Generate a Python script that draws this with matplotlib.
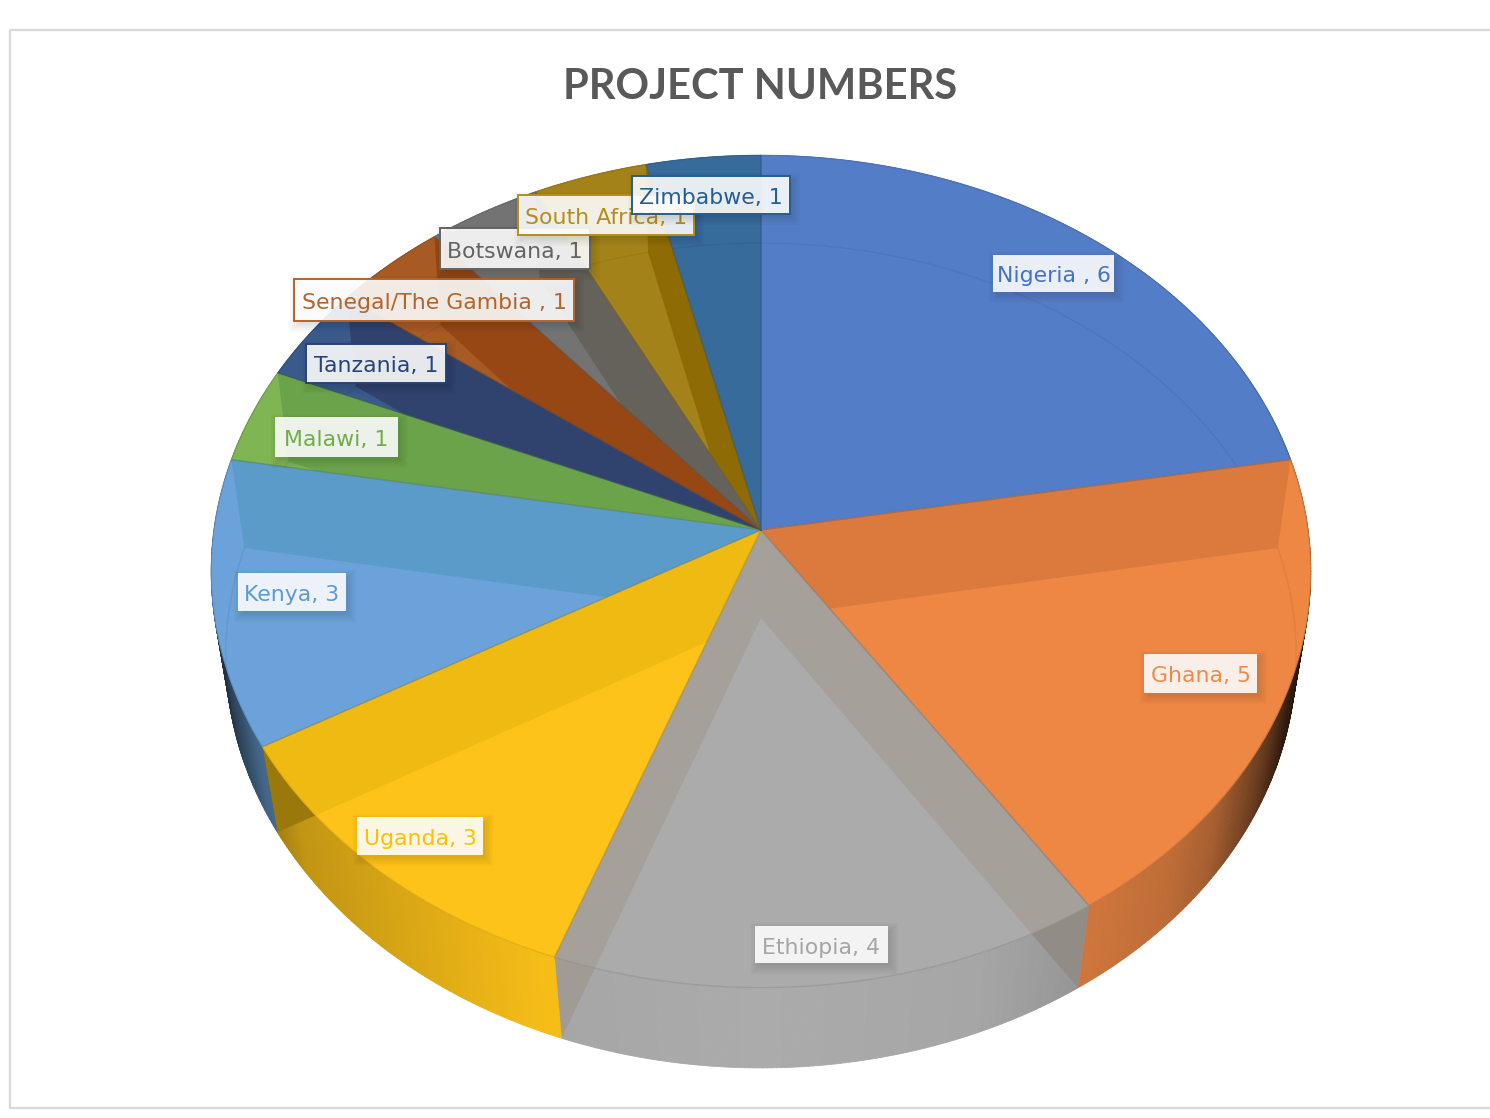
import numpy as np
import matplotlib
matplotlib.use("Agg")
import matplotlib.pyplot as plt
from matplotlib.collections import PolyCollection
from matplotlib.colors import to_rgb
from matplotlib.patches import Polygon, Rectangle

# dane z wykresu
names = ["Nigeria ", "Ghana", "Ethiopia", "Uganda", "Kenya", "Malawi", "Tanzania",
         "Senegal/The Gambia ", "Botswana", "South Africa", "Zimbabwe"]
values = [6, 5, 4, 3, 3, 1, 1, 1, 1, 1, 1]

top_colors = ["#547DC7", "#EE8744", "#ABABAB", "#FEC318", "#6BA2D9", "#7FB552",
              "#3A5A8C", "#A85A24", "#737373", "#A38319", "#376B9C"]
band_colors = ["#547DC7", "#DB7A3C", "#A6A09A", "#EFBA12", "#5B9BC9", "#6BA34A",
               "#30426E", "#964714", "#64625A", "#8E6B05", "#376B9C"]
text_colors = ["#4472C4", "#F08A4B", "#A5A5A5", "#FFC000", "#5B9BD5", "#70AD47",
               "#264478", "#B5632A", "#636363", "#B38F1A", "#255E91"]
# ramki etykiet: lewo, gora, prawo, dol
label_boxes = [(993, 255, 1114, 292), (1144, 654, 1257, 693), (755, 926, 888, 963),
               (357, 817, 483, 855), (238, 573, 346, 611), (275, 417, 398, 457),
               (306, 344, 446, 383), (294, 279, 574, 321), (440, 228, 590, 269),
               (518, 195, 694, 235), (632, 176, 790, 214)]
framed = [False, False, False, False, False, False, True, True, True, True, True]

cx = 761
top_face = dict(R=547, H=412, k=0.0996, cy=530)
bottom_face = dict(R=533, H=409, k=0.0909, cy=618)


def project(theta, R, H, k, cy):
    # rzut perspektywiczny punktu z kola, theta liczona od gory zgodnie z zegarem
    w = 1 + k * np.cos(theta)
    return np.column_stack([cx + R * np.sin(theta) / w, cy - H * np.cos(theta) / w])


def shade(theta):
    # prawa strona ciemnieje wczesniej niz lewa
    x = project(np.atleast_1d(theta), **top_face)[:, 0]
    t = np.abs(x - cx) / 550
    right = np.interp(t, [0, 0.4, 0.6, 0.75, 0.83, 0.92, 0.97, 1],
                      [1, 0.97, 0.87, 0.8, 0.7, 0.42, 0.2, 0.15])
    left = np.interp(t, [0, 0.4, 0.6, 0.85, 0.92, 1], [1, 0.97, 0.88, 0.76, 0.62, 0.3])
    return np.where(x > cx, right, left)


def scaled(color, factor):
    return tuple(np.clip(np.array(to_rgb(color)) * factor, 0, 1))


fig = plt.figure(figsize=(14.9, 11.18), dpi=100)
ax = fig.add_axes([0, 0, 1, 1])
ax.set_xlim(0, 1490)
ax.set_ylim(1118, 0)
ax.axis("off")

# ramka wykresu
ax.plot([1490, 10, 10, 1490], [30, 30, 1108, 1108], color="#D9D9D9", lw=1.6, zorder=1)

edges = np.cumsum([0] + values) / sum(values) * 2 * np.pi
apex_top = np.array([[cx, top_face["cy"]]])
apex_bottom = np.array([[cx, bottom_face["cy"]]])

# sciany boczne
for i in range(len(values)):
    th = np.linspace(edges[i], edges[i + 1], max(values[i] * 30, 2))
    t = project(th, **top_face)
    b = project(th, **bottom_face)
    s = shade(th)
    quads = [[t[j], t[j + 1], b[j + 1], b[j]] for j in range(len(th) - 1)]
    cols = [scaled(top_colors[i], (s[j] + s[j + 1]) / 2) for j in range(len(th) - 1)]
    ax.add_collection(PolyCollection(quads, facecolors=cols, edgecolors=cols, linewidths=0.6, zorder=2))

# gorne powierzchnie i przeswitujace sciany promieniowe
for i in range(len(values)):
    th = np.linspace(edges[i], edges[i + 1], max(values[i] * 30, 2))
    t = project(th, **top_face)
    b = project(th, **bottom_face)
    wedge = Polygon(np.vstack([apex_top, t]), closed=True, facecolor=top_colors[i],
                    edgecolor=top_colors[i], lw=0.5, zorder=3)
    ax.add_patch(wedge)
    wall_outline = Polygon(np.vstack([t, b[::-1]]), closed=True, transform=ax.transData)

    for edge in (edges[i], edges[i + 1]):
        e_t = project(np.array([edge]), **top_face)
        e_b = project(np.array([edge]), **bottom_face)
        quad = np.vstack([apex_top, e_t, e_b, apex_bottom])
        band = Polygon(quad, closed=True, facecolor=band_colors[i], edgecolor="none", zorder=4)
        ax.add_patch(band)
        band.set_clip_path(wedge)
        if np.cos(edge) < -0.3:
            on_wall = Polygon(quad, closed=True, facecolor=scaled(band_colors[i], shade(edge)[0]),
                              edgecolor="none", zorder=2.5)
            ax.add_patch(on_wall)
            on_wall.set_clip_path(wall_outline)

    # slaby luk dolnej podstawy
    arc, = ax.plot(b[:, 0], b[:, 1], color="black", alpha=0.06, lw=1, zorder=5)
    arc.set_clip_path(wedge)

    # krawedzie wycinka
    outline = np.vstack([apex_top, t, apex_top])
    ax.plot(outline[:, 0], outline[:, 1], color=scaled(top_colors[i], 0.75), alpha=0.35,
            lw=1, zorder=6, solid_joinstyle="round")

# etykiety
for i, box in enumerate(label_boxes):
    left, up, right, down = box
    base = 10 + i * 0.1
    for grow in (7, 5, 3, 1, -1):
        ax.add_patch(Rectangle((left + 3 - grow, up + 4 - grow), right - left + 2 * grow,
                               down - up + 2 * grow, facecolor="black", alpha=0.025,
                               edgecolor="none", zorder=base))
    ax.add_patch(Rectangle((left, up), right - left, down - up, facecolor="white", alpha=0.89,
                           edgecolor="none", zorder=base + 0.01))
    if framed[i]:
        ax.add_patch(Rectangle((left, up), right - left, down - up, fill=False,
                               edgecolor=text_colors[i], lw=1.4, zorder=base + 0.02))
    ax.text((left + right) / 2, (up + down) / 2 + 3, f"{names[i]}, {values[i]}", color=text_colors[i],
            fontsize=15.8, ha="center", va="center", family="DejaVu Sans", zorder=base + 0.03)

ax.text(760, 87, "PROJECT NUMBERS", color="#595959", fontsize=30, fontweight="bold",
        family="Lato", ha="center", va="center", zorder=20)

fig.savefig("out.png", dpi=100)
